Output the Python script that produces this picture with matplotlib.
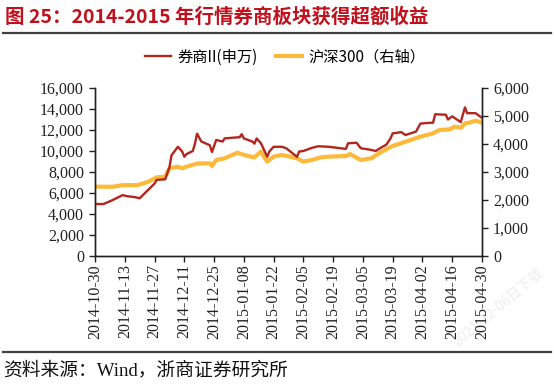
import datetime as dt
import matplotlib
matplotlib.use("Agg")
import matplotlib.pyplot as plt
import matplotlib.dates as mdates
from matplotlib.lines import Line2D
from matplotlib.ticker import FuncFormatter, MultipleLocator

# 券商II(申万) - left axis
broker_dates = ["2014-10-30", "2014-11-03", "2014-11-07", "2014-11-12", "2014-11-14",
                "2014-11-18", "2014-11-20", "2014-11-24", "2014-11-27", "2014-11-28",
                "2014-12-02", "2014-12-04", "2014-12-05", "2014-12-08", "2014-12-10",
                "2014-12-11", "2014-12-12", "2014-12-15", "2014-12-16", "2014-12-17",
                "2014-12-19", "2014-12-23", "2014-12-24", "2014-12-26", "2014-12-29",
                "2014-12-30", "2015-01-05", "2015-01-06", "2015-01-07", "2015-01-08",
                "2015-01-12", "2015-01-13", "2015-01-14", "2015-01-16", "2015-01-19",
                "2015-01-20", "2015-01-22", "2015-01-26", "2015-01-28", "2015-02-02",
                "2015-02-03", "2015-02-05", "2015-02-09", "2015-02-12", "2015-02-17",
                "2015-02-25", "2015-02-26", "2015-03-02", "2015-03-04", "2015-03-06",
                "2015-03-09", "2015-03-11", "2015-03-13", "2015-03-16", "2015-03-18",
                "2015-03-19", "2015-03-20", "2015-03-23", "2015-03-25", "2015-03-30",
                "2015-04-01", "2015-04-03", "2015-04-07", "2015-04-08", "2015-04-13",
                "2015-04-14", "2015-04-16", "2015-04-20", "2015-04-22", "2015-04-23",
                "2015-04-27", "2015-04-29", "2015-04-30"]
broker_vals = [4950, 4950, 5300, 5800, 5700,
               5600, 5500, 6300, 6900, 7250,
               7300, 8450, 9600, 10400, 9950,
               9450, 9700, 10000, 10700, 11650,
               10900, 10550, 9900, 11050, 10900,
               11200, 11300, 11300, 11600, 11200,
               10900, 10700, 11200, 10750, 9450,
               9950, 10400, 10400, 10250, 9450,
               9950, 10000, 10300, 10450, 10400,
               10200, 10730, 10790, 10260, 10200,
               10100, 10000, 10260, 10600, 11200,
               11680, 11700, 11800, 11520, 11850,
               12600, 12650, 12700, 13500, 13450,
               13000, 13300, 12750, 14150, 13600,
               13600, 13300, 13150]

# 沪深300 - right axis
hs_dates = ["2014-10-30", "2014-11-07", "2014-11-12", "2014-11-19", "2014-11-24",
            "2014-11-28", "2014-12-02", "2014-12-04", "2014-12-08", "2014-12-10",
            "2014-12-12", "2014-12-17", "2014-12-23", "2014-12-24", "2014-12-26",
            "2014-12-30", "2015-01-05", "2015-01-08", "2015-01-13", "2015-01-16",
            "2015-01-19", "2015-01-22", "2015-01-26", "2015-02-02", "2015-02-05",
            "2015-02-09", "2015-02-13", "2015-02-17", "2015-02-25", "2015-02-27",
            "2015-03-04", "2015-03-09", "2015-03-13", "2015-03-19", "2015-03-25",
            "2015-04-01", "2015-04-07", "2015-04-10", "2015-04-15", "2015-04-17",
            "2015-04-20", "2015-04-22", "2015-04-24", "2015-04-27", "2015-04-30"]
hs_vals = [2480, 2470, 2530, 2530, 2650,
           2810, 2830, 3130, 3190, 3130,
           3190, 3300, 3310, 3215, 3430,
           3490, 3690, 3610, 3520, 3730,
           3370, 3550, 3610, 3490, 3370,
           3430, 3520, 3550, 3570, 3640,
           3430, 3490, 3690, 3930, 4080,
           4260, 4380, 4500, 4525, 4620,
           4580, 4740, 4760, 4830, 4760]

tick_start = dt.date(2014, 10, 30)
tick_end = dt.date(2015, 4, 30)

serif = ["Liberation Serif", "Noto Sans CJK SC"]
cjk = ["Noto Sans CJK SC", "DejaVu Sans"]

to_dt = lambda s: dt.datetime.strptime(s, "%Y-%m-%d")
bx = [to_dt(s) for s in broker_dates]
hx = [to_dt(s) for s in hs_dates]

fig = plt.figure(figsize=(5.54, 3.85), dpi=100)
ax = fig.add_axes([0.1715, 0.335, 0.6985, 0.4365])
ax2 = ax.twinx()

red = "#B3261E"
orange = "#FDB93A"

l2, = ax2.plot(hx, hs_vals, color=orange, lw=3.0, solid_joinstyle="round")
l1, = ax.plot(bx, broker_vals, color=red, lw=1.7)
ax.set_zorder(ax2.get_zorder() + 1)
ax.patch.set_visible(False)

ax.set_ylim(0, 16000)
ax.yaxis.set_major_locator(MultipleLocator(2000))
ax2.set_ylim(0, 6000)
ax2.yaxis.set_major_locator(MultipleLocator(1000))
fmt = FuncFormatter(lambda v, p: f"{v:,.0f}")
ax.yaxis.set_major_formatter(fmt)
ax2.yaxis.set_major_formatter(fmt)

ax.set_xlim(mdates.date2num(tick_start), mdates.date2num(tick_end))
ticks = [tick_start + dt.timedelta(days=14 * i) for i in range(14)]
ax.set_xticks([mdates.date2num(t) for t in ticks])
ax.set_xticklabels([t.strftime("%Y-%m-%d") for t in ticks], rotation=90)

for a in (ax, ax2):
    a.spines["top"].set_visible(False)
    for s in ("left", "right", "bottom"):
        a.spines[s].set_linewidth(1.0)
        a.spines[s].set_color("#222222")
    a.tick_params(direction="out", length=4, width=1.0, colors="#222222",
                  labelsize=11.5, pad=2)
    for lab in a.get_xticklabels() + a.get_yticklabels():
        lab.set_family(serif)
ax.tick_params(axis="y", pad=4)
ax2.tick_params(axis="y", pad=4)

fig.legend([l1, l2], ["券商II(申万)", "沪深300（右轴）"], loc="center",
           bbox_to_anchor=(0.515, 0.852), ncol=2, frameon=False,
           handlelength=1.7, columnspacing=1.2, handletextpad=0.4,
           prop={"family": cjk, "size": 11})

fig.text(0.009, 0.956, "图 25：2014-2015 年行情券商板块获得超额收益",
         color="#C0101C", fontsize=14, fontweight="bold", family=cjk,
         va="center", ha="left")
fig.add_artist(Line2D([0.005, 0.995], [0.914, 0.914], color="#404040", lw=1.6))
fig.add_artist(Line2D([0.005, 0.995], [0.0857, 0.0857], color="#404040", lw=1.6))
fig.text(0.006, 0.038, "资料来源：Wind，浙商证券研究所", fontsize=13.5,
         family=serif, va="center", ha="left", color="#111111")

fig.text(0.9, 0.2, "2021-12-06日下载", rotation=40, fontsize=10,
         color="#eeeeee", family=cjk, ha="center", va="center", zorder=0)

fig.savefig("out.png", dpi=100)
